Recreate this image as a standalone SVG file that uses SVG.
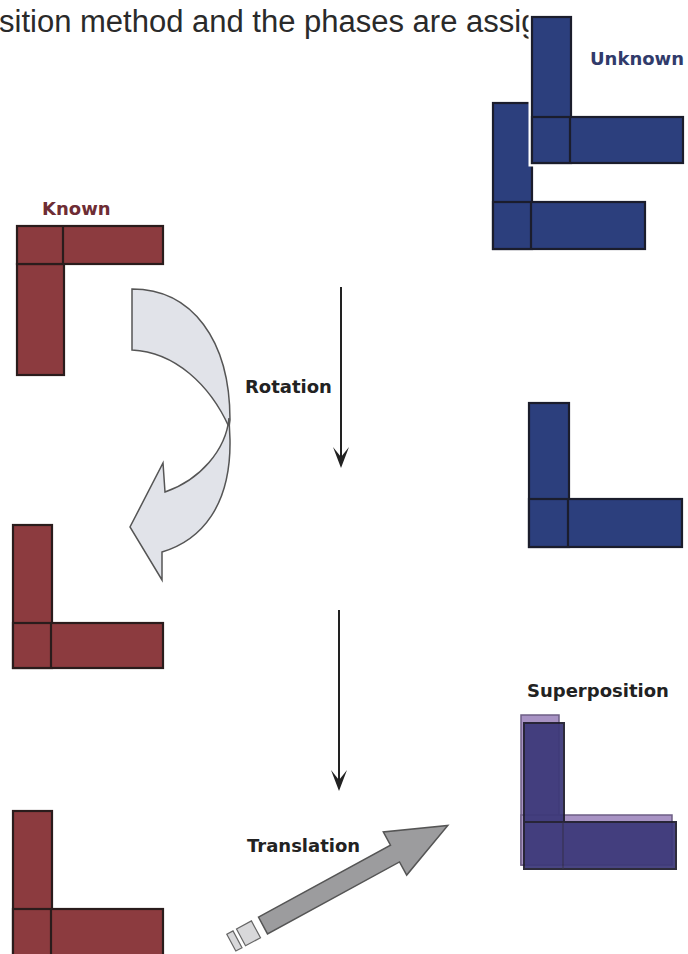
<svg xmlns="http://www.w3.org/2000/svg" width="688" height="954" viewBox="0 0 688 954">
<style>
.red{fill:#8c3b3f;stroke:#2a1c1c;stroke-width:2.2}
.blue{fill:#2c3f7d;stroke:#1b1d2c;stroke-width:2.2}
.div-r{stroke:#2a1c1c;stroke-width:2.2}
.div-b{stroke:#1b1d2c;stroke-width:2.2}
.lbl{font-family:"DejaVu Sans",sans-serif;font-weight:bold;font-size:18px}
.axis{stroke:#222;stroke-width:2;fill:none}
.head{fill:#222}
</style>
<rect x="0" y="0" width="688" height="954" fill="#ffffff"/>

<text id="header" x="-1" y="32" font-family="Liberation Sans, Arial, sans-serif" font-size="31" fill="#2a2a2a">sition method and the phases are assig</text>

<g id="known-L">
  <rect class="red" x="17" y="264" width="47" height="111"/>
  <rect class="red" x="17" y="226" width="146" height="38"/>
  <line class="div-r" x1="63" y1="226" x2="63" y2="264"/>
  <text class="lbl" x="42" y="215" fill="#6e2d34">Known</text>
</g>

<g id="rotated-L">
  <rect class="red" x="13" y="525" width="39" height="143"/>
  <rect class="red" x="13" y="623" width="150" height="45"/>
  <line class="div-r" x1="51" y1="623" x2="51" y2="668"/>
</g>

<g id="translated-L">
  <rect class="red" x="13" y="811" width="39" height="150"/>
  <rect class="red" x="13" y="909" width="150" height="50"/>
  <line class="div-r" x1="51" y1="909" x2="51" y2="954"/>
</g>

<g id="unknown-lower">
  <rect class="blue" x="493" y="103" width="39" height="146"/>
  <rect class="blue" x="493" y="202" width="152" height="47"/>
  <line class="div-b" x1="531" y1="202" x2="531" y2="249"/>
</g>

<g id="unknown-upper">
  <path d="M532,17 H571 V117 H683 V163 H532 Z" fill="#ffffff" stroke="#ffffff" stroke-width="7"/>
  <rect class="blue" x="532" y="17" width="39" height="146"/>
  <rect class="blue" x="532" y="117" width="151" height="46"/>
  <line class="div-b" x1="570" y1="117" x2="570" y2="163"/>
  <text class="lbl" x="590" y="65" fill="#313b6b">Unknown</text>
</g>

<g id="unknown-middle">
  <rect class="blue" x="529" y="403" width="40" height="144"/>
  <rect class="blue" x="529" y="499" width="153" height="48"/>
  <line class="div-b" x1="568" y1="499" x2="568" y2="547"/>
</g>

<g id="superposition">
  <g fill="#a893c4" stroke="#6d5f85" stroke-width="1.5">
    <rect x="521" y="715" width="38" height="150"/>
    <rect x="521" y="815" width="151" height="50"/>
  </g>
  <g opacity="0.93">
    <rect x="524" y="723" width="40" height="146" fill="#3c3879" stroke="#1f1d2e" stroke-width="2"/>
    <rect x="524" y="822" width="152" height="47" fill="#3c3879" stroke="#1f1d2e" stroke-width="2"/>
    <line x1="563" y1="822" x2="563" y2="869" stroke="#2a2740" stroke-width="1"/>
  </g>
  <text class="lbl" x="527" y="697" fill="#222">Superposition</text>
</g>

<g id="rotation-arrow">
  <path d="M132,289 C192,289 230,340 230,420 L229,427 C210,385 175,352 132,350 Z" fill="#e1e3e9" stroke="#555" stroke-width="1.5"/>
  <path d="M229,418 C226,450 200,480 165,492 L163,463 L130,527 L162,580 L162,552 C202,540 231,505 230,440 Z" fill="#e1e3e9" stroke="#555" stroke-width="1.5"/>
</g>

<g id="translation-arrow">
  <polygon points="258.5,917.1 390.5,845.1 383.3,831.9 447.8,825.5 406.7,875.1 399.5,861.9 267.5,933.9" fill="#9c9c9e" stroke="#555" stroke-width="1.5"/>
  <polygon points="251.4,920.9 260.5,937.7 245.5,945.8 236.5,929.0" fill="#d8d8da" stroke="#666" stroke-width="1.2"/>
  <polygon points="233.0,930.9 242.0,947.7 235.8,951.0 226.8,934.2" fill="#d8d8da" stroke="#666" stroke-width="1.2"/>
</g>

<g id="connectors">
  <line class="axis" x1="341" y1="287" x2="341" y2="462"/>
  <path class="head" d="M341,468 L333,447 L341,457 L349,447 Z"/>
  <line class="axis" x1="339" y1="610" x2="339" y2="785"/>
  <path class="head" d="M339,791 L331,770 L339,780 L347,770 Z"/>
</g>

<g id="labels">
  <text class="lbl" x="245" y="393" fill="#222">Rotation</text>
  <text class="lbl" x="247" y="852" fill="#222">Translation</text>
</g>
</svg>
